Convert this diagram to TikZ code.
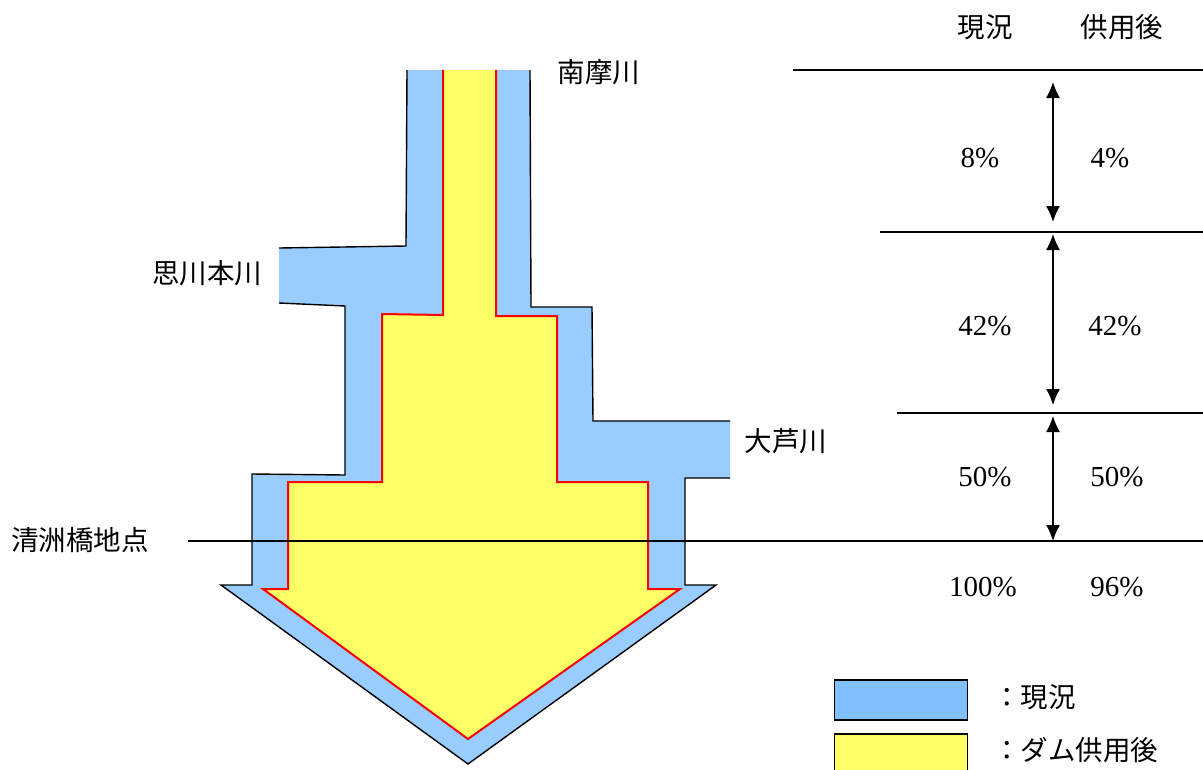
\documentclass[tikz,border=0pt]{standalone}
\usepackage{fontspec}
\setmainfont{Liberation Serif}
\newfontfamily\jp{Noto Sans CJK JP}
\usetikzlibrary{arrows.meta}
\definecolor{riverblue}{HTML}{99CCFF}
\definecolor{legblue}{HTML}{80C0FF}
\definecolor{damyellow}{HTML}{FFFF66}
\tikzset{
  jptext/.style={font=\jp\fontsize{27.5}{32}\selectfont, inner sep=0pt},
  numtext/.style={font=\fontsize{29}{33}\selectfont, inner sep=0pt},
  blackline/.style={draw=black, line width=1.4pt},
  redline/.style={draw=red, line width=2pt, line join=miter},
  dimarrow/.style={line width=1.4pt, {Latex[length=16pt,width=14pt]}-{Latex[length=16pt,width=14pt]}},
  legbox/.style={draw=black, line width=1.5pt, minimum width=133pt, minimum height=40pt, inner sep=0pt}
}
\begin{document}
\begin{tikzpicture}[x=1pt,y=-1pt]
\useasboundingbox (0,0) rectangle (1203,769);
% blue (current) shape
\fill[riverblue] (407,70) -- (406,246) -- (279,248) -- (279,303) -- (345,306) -- (345,475) -- (252,474) -- (252,585) -- (221,585) -- (468,764) -- (716,585) -- (685,585) -- (685,478) -- (730,478) -- (730,421) -- (593,421) -- (592,307) -- (531,307) -- (530,70) -- cycle;
\draw[blackline] (279,303) -- (345,306) -- (345,475) -- (252,474) -- (252,585) -- (221,585) -- (468,764) -- (716,585) -- (685,585) -- (685,478) -- (730,478);
\draw[blackline] (730,421) -- (593,421) -- (592,307) -- (531,307) -- (530,70);
\draw[blackline] (407,70) -- (406,246) -- (279,248);
% yellow (after dam) shape
\fill[damyellow] (443,70) -- (443,315) -- (382,314) -- (382,482) -- (288,482) -- (288,589) -- (263,589) -- (468,739) -- (680,589) -- (648,589) -- (648,482) -- (557,482) -- (557,316) -- (496,316) -- (496,70) -- cycle;
\draw[redline] (443,70) -- (443,315) -- (382,314) -- (382,482) -- (288,482) -- (288,589) -- (263,589) -- (468,739) -- (680,589) -- (648,589) -- (648,482) -- (557,482) -- (557,316) -- (496,316) -- (496,70);
% reference lines
\coordinate (l0a) at (793,70);  \coordinate (l0b) at (1203,70);
\coordinate (l1a) at (880,232); \coordinate (l1b) at (1203,232);
\coordinate (l2a) at (897,413); \coordinate (l2b) at (1203,413);
\coordinate (l3a) at (188,541); \coordinate (l3b) at (1203,541);
\draw[blackline] (l0a) -- (l0b);
\draw[blackline] (l1a) -- (l1b);
\draw[blackline] (l2a) -- (l2b);
\draw[blackline] (l3a) -- (l3b);
% dimension arrows
\coordinate (a1t) at (1053,82);  \coordinate (a1b) at (1053,222);
\coordinate (a2t) at (1053,234); \coordinate (a2b) at (1053,405);
\coordinate (a3t) at (1053,416); \coordinate (a3b) at (1053,541);
\draw[dimarrow] (a1t) -- (a1b);
\draw[dimarrow] (a2t) -- (a2b);
\draw[dimarrow] (a3t) -- (a3b);
% headers
\node[jptext] (hcur) at (985,27) {現況};
\node[jptext] (haft) at (1122,27) {供用後};
% numbers
\node[numtext] (p1a) at (980,158) {8\%};
\node[numtext] (p1b) at (1110,158) {4\%};
\node[numtext] (p2a) at (985,326) {42\%};
\node[numtext] (p2b) at (1115,326) {42\%};
\node[numtext] (p3a) at (985,477) {50\%};
\node[numtext] (p3b) at (1117,477) {50\%};
\node[numtext] (p4a) at (983,587) {100\%};
\node[numtext] (p4b) at (1117,587) {96\%};
% river labels
\node[jptext] (rnm) at (599,72) {南摩川};
\node[jptext] (rom) at (207,273) {思川本川};
\node[jptext] (roa) at (786,441) {大芦川};
\node[jptext] (rks) at (80,540) {清洲橋地点};
% legend
\node[legbox, fill=legblue] (lgb) at (901,700) {};
\node[legbox, fill=damyellow] (lgy) at (901,754) {};
\node[jptext, anchor=west] (lgbt) at (993,697) {：現況};
\node[jptext, anchor=west] (lgyt) at (993,750) {：ダム供用後};
\end{tikzpicture}
\end{document}
